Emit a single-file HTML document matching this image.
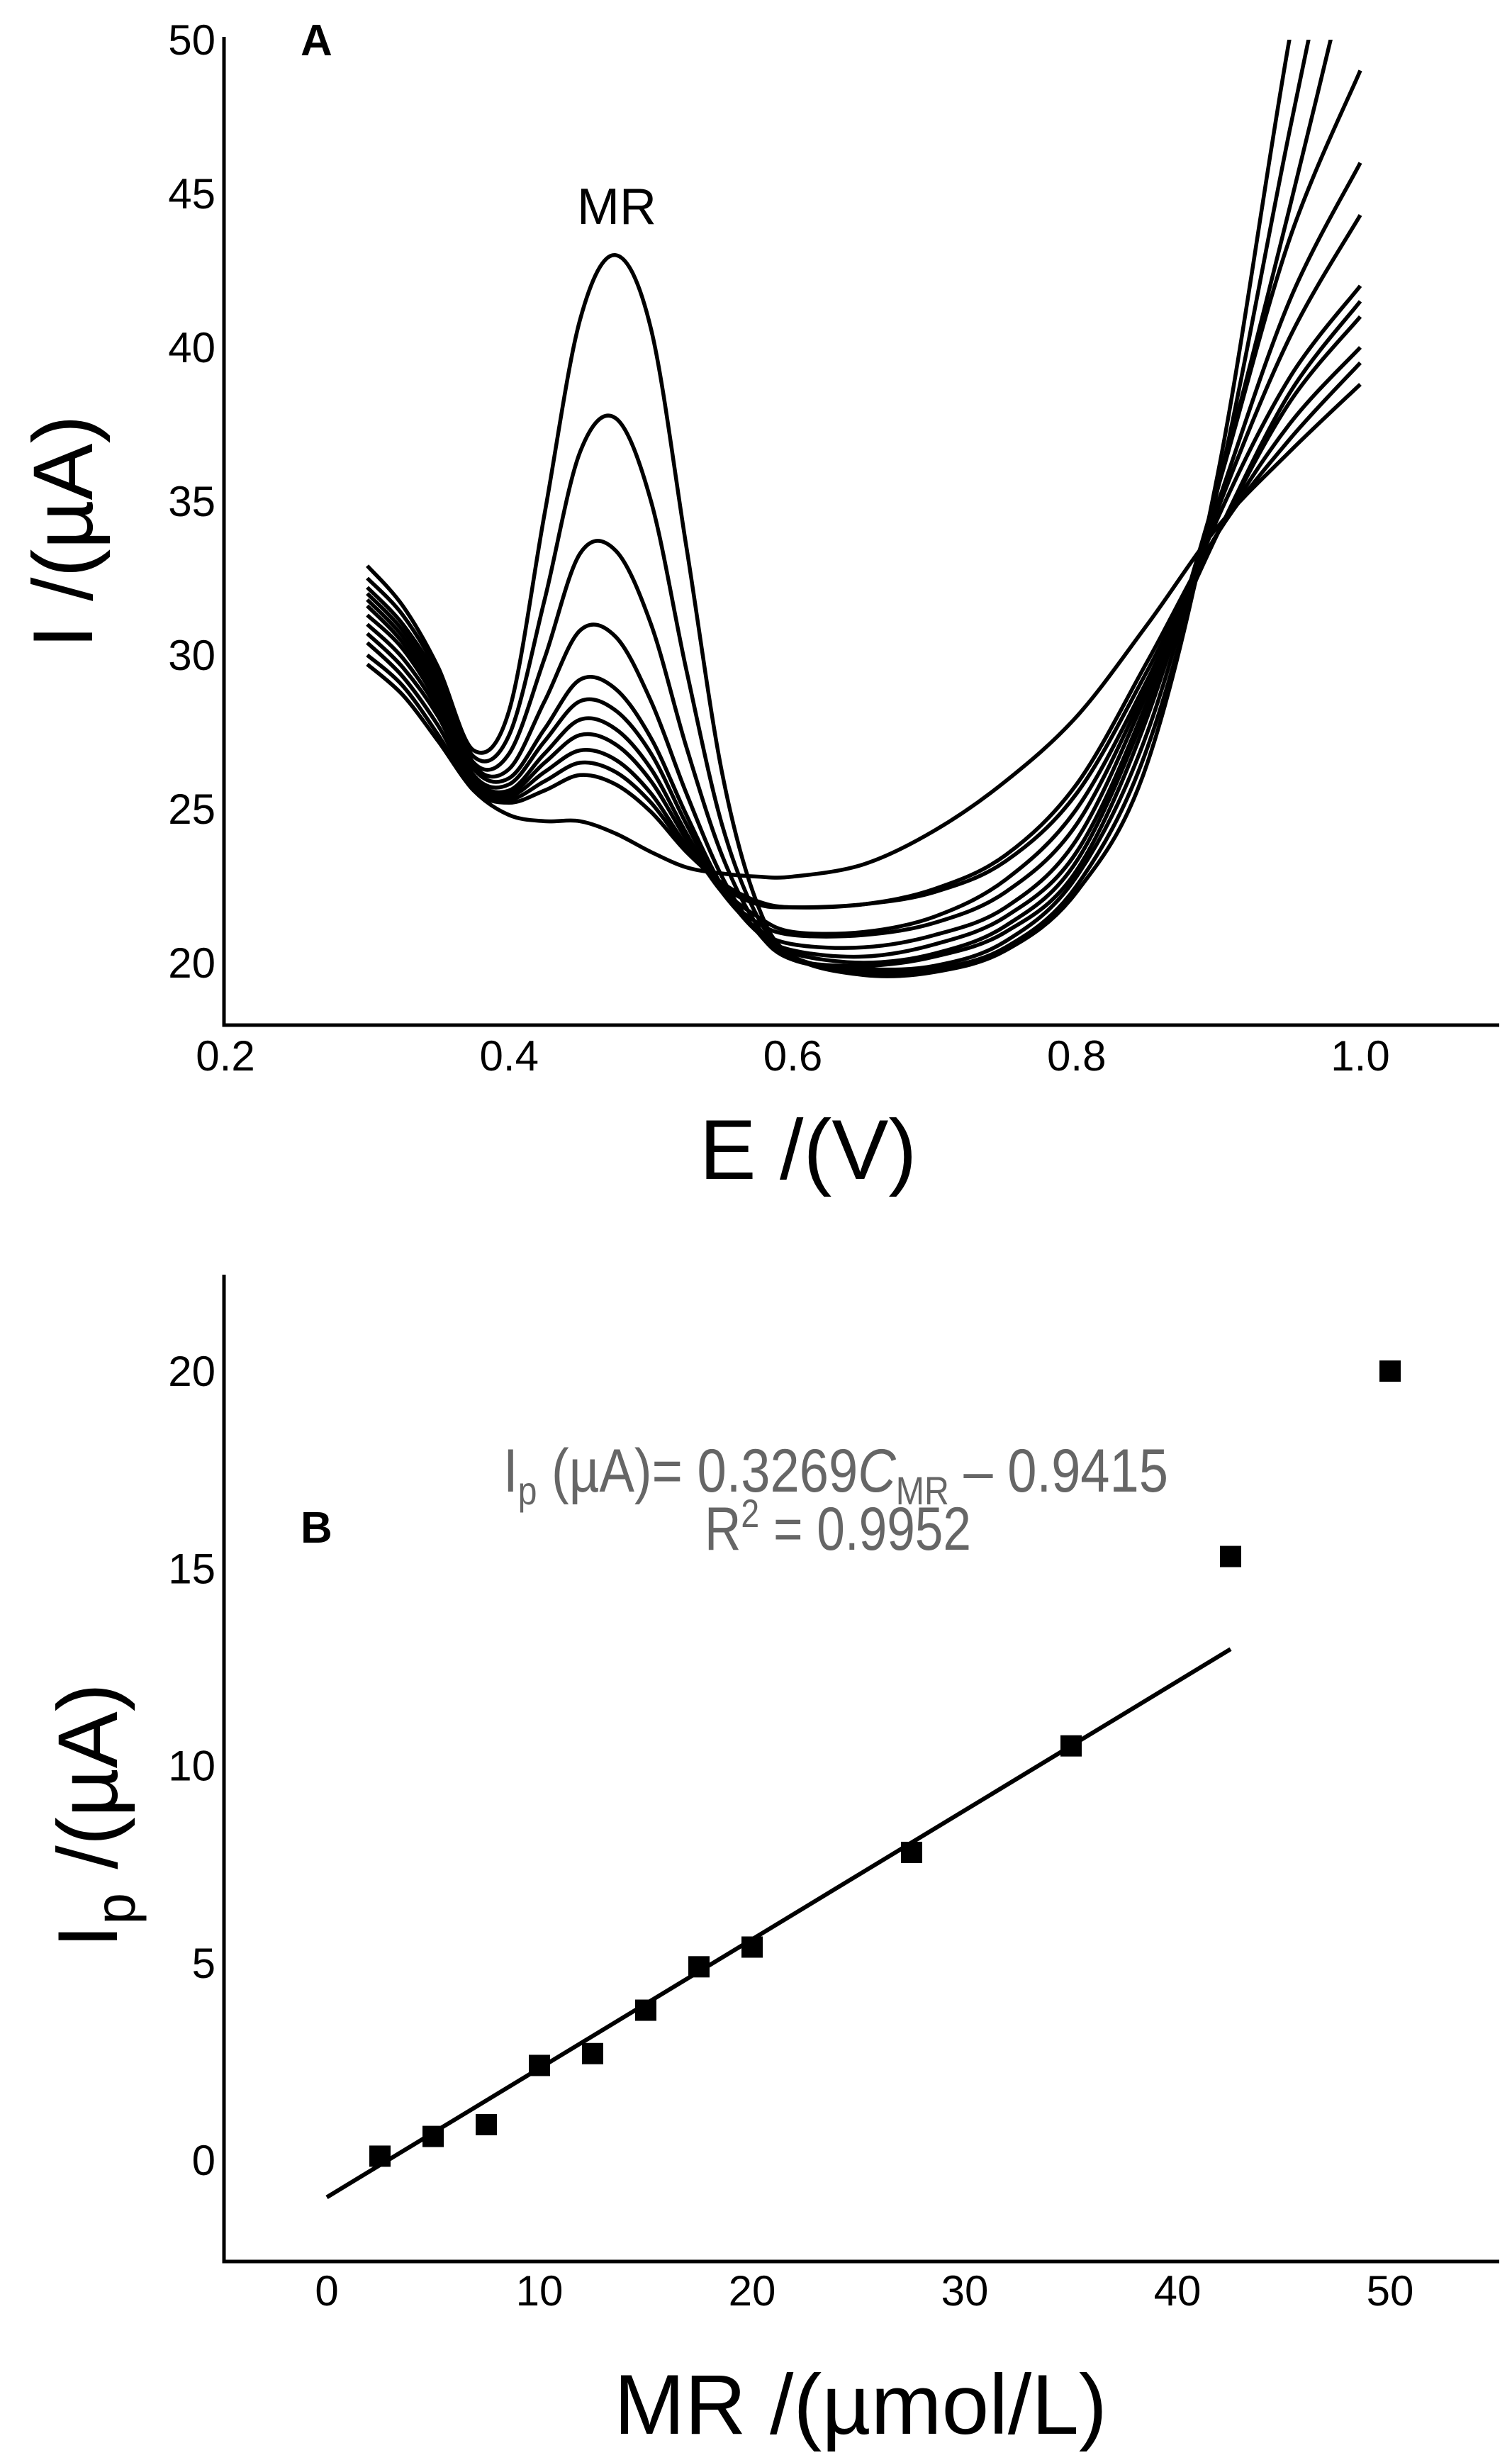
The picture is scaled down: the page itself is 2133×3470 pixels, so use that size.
<!DOCTYPE html>
<html><head><meta charset="utf-8"><style>
html,body{margin:0;padding:0;background:#fff;}
svg{display:block;}
text{font-family:"Liberation Sans",sans-serif;}
</style></head><body>
<svg id="chart" width="2133" height="3470" viewBox="0 0 2133 3470">
<defs><clipPath id="clipA"><rect x="316" y="56" width="1800" height="1390"/></clipPath></defs>
<g id="panelA"></g>
<g id="panelB"></g>
</svg>
<script>
const E = [0.30,0.325,0.35,0.375,0.40,0.425,0.45,0.475,0.50,0.525,0.55,0.575,0.60,0.65,0.70,0.75,0.80,0.85,0.90,0.95,1.00];
const curve1 = [32.9,31.6,29.6,26.9,28.2,34.6,40.9,43.0,40.6,33.5,26.2,21.9,20.2,19.6,19.7,20.4,22.3,26.5,36.0,50.0,62];
const curve2 = [32.5,31.3,29.4,26.7,27.4,31.8,36.6,37.7,35.0,29.5,24.5,21.5,20.2,19.7,19.8,20.5,22.5,27.0,35.5,47.0,58];
const curve3 = [32.2,31.0,29.2,26.5,26.8,29.9,33.3,33.4,31.0,27.0,23.5,21.2,20.1,19.8,19.9,20.7,22.8,27.5,35.5,44.5,54];
const curve4 = [32.0,30.8,29.0,26.4,26.3,28.5,30.8,30.6,28.5,25.5,22.8,21.0,20.1,19.9,20.2,21.0,23.0,28.0,35.5,43.5,49.0];
const curve5 = [31.8,30.6,28.8,26.3,26.0,27.6,29.2,28.9,27.3,24.8,22.5,21.0,20.3,20.0,20.3,21.2,23.3,28.3,35.0,41.5,46.0];
const curve6 = [31.6,30.4,28.6,26.1,25.8,27.2,28.5,28.2,26.8,24.5,22.4,21.0,20.4,20.2,20.6,21.5,23.6,28.5,34.8,40.3,44.3];
const curve7 = [31.3,30.2,28.4,26.0,25.6,26.8,27.9,27.6,26.3,24.2,22.3,21.1,20.6,20.5,20.9,21.8,24.0,28.8,34.5,39.0,42.0];
const curve8 = [31.0,29.9,28.2,25.9,25.5,26.5,27.4,27.1,25.9,24.0,22.3,21.3,20.9,20.9,21.3,22.3,24.5,29.0,34.0,38.5,41.5];
const curve9 = [30.7,29.6,28.0,25.8,25.4,26.2,26.9,26.6,25.5,23.8,22.4,21.5,21.0,21.0,21.5,22.7,25.0,29.2,34.0,38.2,41.0];
const curve10 = [30.4,29.3,27.7,25.7,25.3,25.9,26.5,26.2,25.2,23.7,22.5,21.9,21.8,21.9,22.3,23.3,25.5,29.5,34.0,37.5,40.0];
const curve11 = [30.0,29.0,27.4,25.6,25.2,25.6,26.1,25.8,24.9,23.6,22.6,22.0,21.8,21.9,22.4,23.5,25.8,29.8,34.0,37.0,39.5];
const curve12 = [29.7,28.7,27.2,25.6,24.8,24.6,24.6,24.2,23.6,23.1,22.9,22.8,22.8,23.2,24.3,25.9,28.0,31.0,34.2,36.6,38.8];
const curvesA = [curve1,curve2,curve3,curve4,curve5,curve6,curve7,curve8,curve9,curve10,curve11,curve12];
const xTicksA = [0.2,0.4,0.6,0.8,1.0];
const xTickLabelsA = ["0.2","0.4","0.6","0.8","1.0"];
const yTicksA = [20,25,30,35,40,45,50];

const concB = [2.5,5,7.5,10,12.5,15,17.5,20,27.5,35,42.5,50];
const ipB = [0.1,0.6,0.9,2.4,2.7,3.8,4.9,5.4,7.8,10.5,15.3,20.0];
const fitSlope = 0.3269, fitIntercept = -0.9415, fitRange = [0,42.5];
const xTicksB = [0,10,20,30,40,50];
const yTicksB = [0,5,10,15,20];

const NS="http://www.w3.org/2000/svg";
function mk(tag,attrs,parent,txt){const e=document.createElementNS(NS,tag);for(const k in attrs)e.setAttribute(k,attrs[k]);if(txt!==undefined)e.textContent=txt;parent.appendChild(e);return e;}

const xA = v => 318 + (v-0.2)*(1919-318)/0.8;
const yA = v => 1358 - (v-20)*43.4;
const gA = document.getElementById('panelA');
let ax = mk('path',{d:'M316 52 V1446 H2115',fill:'none',stroke:'#000','stroke-width':5},gA);


xTicksA.forEach((t,i)=>{const e=mk('text',{x:xA(t),y:1510,'font-size':60,'text-anchor':'middle'},gA,xTickLabelsA[i]);

});
yTicksA.forEach(t=>{const e=mk('text',{x:304,y:yA(t)+21,'font-size':60,'text-anchor':'end'},gA,String(t));

});
function smooth(pts){let d='M'+pts[0][0].toFixed(1)+' '+pts[0][1].toFixed(1);
for(let i=0;i<pts.length-1;i++){const p0=pts[Math.max(0,i-1)],p1=pts[i],p2=pts[i+1],p3=pts[Math.min(pts.length-1,i+2)];
const c1x=p1[0]+(p2[0]-p0[0])/6,c1y=p1[1]+(p2[1]-p0[1])/6,c2x=p2[0]-(p3[0]-p1[0])/6,c2y=p2[1]-(p3[1]-p1[1])/6;
d+=' C'+c1x.toFixed(1)+' '+c1y.toFixed(1)+' '+c2x.toFixed(1)+' '+c2y.toFixed(1)+' '+p2[0].toFixed(1)+' '+p2[1].toFixed(1);}
return d;}
const gc = mk('g',{'clip-path':'url(#clipA)'},gA);
curvesA.forEach((c,i)=>{const p=mk('path',{d:smooth(c.map((v,j)=>[xA(E[j]),yA(v)])),fill:'none',stroke:'#000','stroke-width':5.5},gc);

});
let t;
t=mk('text',{x:424,y:78,'font-size':62,'font-weight':'bold'},gA,'A');


t=mk('text',{x:870,y:316,'font-size':72,'text-anchor':'middle'},gA,'MR');


t=mk('text',{x:1140,y:1663,'font-size':120,'text-anchor':'middle'},gA,'E /(V)');


t=mk('text',{x:0,y:0,'font-size':120,'text-anchor':'middle',transform:'translate(130,750) rotate(-90)'},gA,'I /(\u00b5A)');



const xB = v => 461 + v*30.0;
const yB = v => 3047 - v*55.65;
const gB = document.getElementById('panelB');
ax = mk('path',{d:'M316 1798 V3190 H2115',fill:'none',stroke:'#000','stroke-width':5},gB);


xTicksB.forEach(v=>{const e=mk('text',{x:xB(v),y:3252,'font-size':60,'text-anchor':'middle'},gB,String(v));

});
yTicksB.forEach(v=>{const e=mk('text',{x:304,y:yB(v)+21,'font-size':60,'text-anchor':'end'},gB,String(v));

});
const fl=mk('line',{x1:xB(fitRange[0]),y1:yB(fitSlope*fitRange[0]+fitIntercept),x2:xB(fitRange[1]),y2:yB(fitSlope*fitRange[1]+fitIntercept),stroke:'#000','stroke-width':6},gB);


concB.forEach((c,i)=>{const r=mk('rect',{x:xB(c)-15,y:yB(ipB[i])-15,width:30,height:30,fill:'#000'},gB);

});
t=mk('text',{x:424,y:2176,'font-size':62,'font-weight':'bold'},gB,'B');


const eq=mk('text',{x:710,y:2104,'font-size':86,fill:'#666',textLength:938,lengthAdjust:'spacingAndGlyphs'},gB);


eq.innerHTML='I<tspan font-size="56" dy="18">p</tspan><tspan dy="-18"> (\u00b5A)= 0.3269</tspan><tspan font-style="italic">C</tspan><tspan font-size="56" dy="18">MR</tspan><tspan dy="-18"> \u2013 0.9415</tspan>';
const r2=mk('text',{x:994,y:2186,'font-size':86,fill:'#666',textLength:376,lengthAdjust:'spacingAndGlyphs'},gB);


r2.innerHTML='R<tspan font-size="56" dy="-32">2</tspan><tspan dy="32"> = 0.9952</tspan>';
t=mk('text',{x:1214,y:3433,'font-size':120,'text-anchor':'middle'},gB,'MR /(\u00b5mol/L)');


const yt=mk('text',{x:0,y:0,'font-size':120,'text-anchor':'middle',transform:'translate(165,2561) rotate(-90)'},gB);


yt.innerHTML='I<tspan font-size="80" dy="25">p</tspan><tspan dy="-25"> /(\u00b5A)</tspan>';
</script>
</body></html>
